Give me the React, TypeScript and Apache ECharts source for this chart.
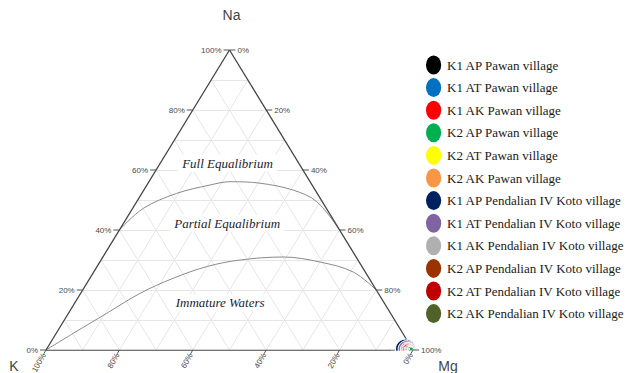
import React, { useEffect, useRef } from "react";
import * as echarts from "echarts";

// ---- Data ----
const seriesNames = [
  "K1 AP Pawan village",
  "K1 AT Pawan village",
  "K1 AK Pawan village",
  "K2 AP Pawan village",
  "K2 AT Pawan village",
  "K2 AK Pawan village",
  "K1 AP Pendalian IV Koto village",
  "K1 AT Pendalian IV Koto village",
  "K1 AK Pendalian IV Koto village",
  "K2 AP Pendalian IV Koto village",
  "K2 AT Pendalian IV Koto village",
  "K2 AK Pendalian IV Koto village",
];
const seriesColors = [
  "#000000", "#0070c0", "#ff0000", "#00b050", "#ffff00", "#f79646",
  "#002060", "#8064a2", "#b0b0b0", "#993300", "#c00000", "#4f6228",
];
// sample compositions (%)
const sampleNa = [0.3, 0.3, 0.3, 0.3, 0.3, 0.3, 0.3, 0.3, 0.3, 0.3, 0.3, 0.3];
const sampleK = [0.9, 0.8, 1.1, 0.3, 0.6, 0.6, 1.9, 1.6, 1.4, 1.2, 1.0, 0.5];
const sampleMg = [98.8, 98.9, 98.6, 99.4, 99.1, 99.1, 97.8, 98.1, 98.3, 98.5, 98.7, 99.2];
const markerSizes = [8, 7, 11, 4, 6, 6, 20, 17, 14, 12, 9, 5];

// equilibrium curves (Na %, K %, Mg %)
const fullEqNa = [40, 47.2, 52.2, 55, 56.1, 55.6, 53.3, 49.4, 40];
const fullEqK = [60, 49.9, 38.3, 27.8, 21.8, 13.9, 6, 1.5, 0];
const fullEqMg = [0, 2.9, 9.5, 17.2, 22.1, 30.5, 40.7, 49.1, 60];

const immNa = [0, 5.6, 12.2, 18.9, 23.9, 27.8, 30, 31, 29.3, 26, 20];
const immK = [100, 89.7, 77.4, 64.9, 53.4, 42.3, 32.1, 19.9, 10.6, 3.3, 0];
const immMg = [0, 4.7, 10.4, 16.2, 22.7, 29.9, 37.9, 49.1, 60.1, 70.7, 80];

const tickValues = [0, 20, 40, 60, 80, 100];
const gridSteps = [10, 20, 30, 40, 50, 60, 70, 80, 90];

const regionLabels = ["Full Equalibrium", "Partial Equalibrium", "Immature Waters"];
const regionNa = [62.3, 42.3, 15.7];
const regionK = [19.4, 29.5, 44.7];
const regionMg = [18.3, 28.2, 39.6];

const vertexNames = ["Na", "K", "Mg"];

const SERIF = "'Liberation Serif', 'DejaVu Serif', 'Times New Roman', serif";
const SANS = "'Liberation Sans', Arial, sans-serif";

// ternary -> cartesian (Na top, K bottom-left, Mg bottom-right)
function toXY(na: number, k: number, mg: number): number[] {
  const s = na + k + mg;
  const a = na / s;
  const m = mg / s;
  return [m + a / 2, a];
}

export default function App() {
  const ref = useRef<HTMLDivElement>(null);
  useEffect(() => {
    if (!ref.current) return;
    const chart = echarts.init(ref.current, null, { renderer: "svg" });

    const gridLines: any[] = [];
    gridSteps.forEach((c) => {
      gridLines.push({ coords: [toXY(c, 100 - c, 0), toXY(c, 0, 100 - c)] });
      gridLines.push({ coords: [toXY(0, 100 - c, c), toXY(100 - c, 0, c)] });
      gridLines.push({ coords: [toXY(0, c, 100 - c), toXY(100 - c, c, 0)] });
    });
    const edges = [
      { coords: [toXY(0, 100, 0), toXY(0, 0, 100)] },
      { coords: [toXY(0, 100, 0), toXY(100, 0, 0)] },
      { coords: [toXY(100, 0, 0), toXY(0, 0, 100)] },
    ];

    const fullData = fullEqNa.map((n, i) => toXY(n, fullEqK[i], fullEqMg[i]));
    const immData = immNa.map((n, i) => toXY(n, immK[i], immMg[i]));

    const scatterSeries = seriesNames.map((name, i) => ({
      type: "scatter",
      name,
      data: [toXY(sampleNa[i], sampleK[i], sampleMg[i])],
      symbol: "circle",
      symbolSize: markerSizes[i],
      itemStyle: { color: seriesColors[i], borderColor: "#ffffff", borderWidth: 1, opacity: 1 },
      z: 30 - markerSizes[i],
      clip: false,
      silent: true,
    }));

    chart.setOption({
      animation: false,
      grid: { left: 46, top: 50, width: 367, height: 300 },
      xAxis: { type: "value", min: 0, max: 1, show: false },
      yAxis: { type: "value", min: 0, max: 1, show: false },
      legend: {
        orient: "vertical",
        left: 426,
        top: 55.5,
        padding: 0,
        itemWidth: 17,
        itemHeight: 19,
        itemGap: 3.6,
        icon: "path://M0,10 A8,10 0 1,1 16,10 A8,10 0 1,1 0,10 Z",
        itemStyle: { borderWidth: 0, opacity: 1 },
        data: seriesNames,
        textStyle: { fontFamily: SERIF, fontSize: 13, color: "#1a1a1a" },
        selectedMode: false,
      },
      series: [
        {
          type: "lines",
          coordinateSystem: "cartesian2d",
          data: gridLines,
          lineStyle: { color: "#e6e6e6", width: 1, opacity: 1 },
          silent: true,
          z: 1,
        },
        {
          type: "line",
          data: fullData,
          smooth: 0.35,
          showSymbol: false,
          lineStyle: { color: "#8a8a8a", width: 1 },
          silent: true,
          z: 2,
        },
        {
          type: "line",
          data: immData,
          smooth: 0.35,
          showSymbol: false,
          lineStyle: { color: "#8a8a8a", width: 1 },
          silent: true,
          z: 2,
        },
        {
          type: "lines",
          coordinateSystem: "cartesian2d",
          data: edges,
          lineStyle: { color: "#444444", width: 1.3, opacity: 1 },
          silent: true,
          z: 3,
        },
        ...scatterSeries,
      ],
    });

    const px = (na: number, k: number, mg: number) =>
      chart.convertToPixel({ gridIndex: 0 }, toXY(na, k, mg)) as number[];

    const tickFont = { fontFamily: SANS, fontSize: 8, fill: "#4a4a4a" };
    const tickLine = { stroke: "#555555", lineWidth: 1 };
    const g: any[] = [];
    tickValues.forEach((v) => {
      // left axis (Na)
      const pl = px(v, 100 - v, 0);
      g.push({ type: "line", z: 50, shape: { x1: pl[0], y1: pl[1], x2: pl[0] - 6, y2: pl[1] }, style: tickLine });
      g.push({ type: "text", z: 50, x: pl[0] - 8, y: pl[1], style: { ...tickFont, text: v + "%", align: "right", verticalAlign: "middle" } });
      // right axis (Mg)
      const pr = px(100 - v, 0, v);
      g.push({ type: "line", z: 50, shape: { x1: pr[0], y1: pr[1], x2: pr[0] + 6, y2: pr[1] }, style: tickLine });
      g.push({ type: "text", z: 50, x: pr[0] + 8, y: pr[1], style: { ...tickFont, text: v + "%", align: "left", verticalAlign: "middle" } });
      // bottom axis (K)
      const pb = px(0, v, 100 - v);
      g.push({ type: "line", z: 50, shape: { x1: pb[0], y1: pb[1], x2: pb[0] - 2.2, y2: pb[1] + 3.8 }, style: tickLine });
      g.push({ type: "text", z: 50, x: pb[0] - 1.8, y: pb[1] + 3.8, rotation: Math.PI / 3, style: { ...tickFont, text: v + "%", align: "right", verticalAlign: "middle" } });
    });

    // white mask below the Mg vertex (markers cut by the base)
    const mgV = px(0, 0, 100);
    g.push({ type: "rect", z: 40, shape: { x: mgV[0] - 22, y: mgV[1] + 0.7, width: 32, height: 11 }, style: { fill: "#ffffff" } });

    // vertex titles
    const naV = px(100, 0, 0);
    const kV = px(0, 100, 0);
    const titleFont = { fontFamily: SANS, fontSize: 14, fill: "#444444", align: "center", verticalAlign: "middle" };
    g.push({ type: "text", z: 50, x: naV[0] + 2, y: 15, style: { ...titleFont, text: vertexNames[0] } });
    g.push({ type: "text", z: 50, x: kV[0] - 32, y: kV[1] + 16, style: { ...titleFont, text: vertexNames[1] } });
    g.push({ type: "text", z: 50, x: mgV[0] + 35, y: mgV[1] + 16, style: { ...titleFont, text: vertexNames[2] } });

    regionLabels.forEach((t, i) => {
      const p = px(regionNa[i], regionK[i], regionMg[i]);
      g.push({
        type: "text",
        z: 20,
        x: p[0],
        y: p[1],
        style: {
          text: t,
          fontFamily: SERIF,
          fontStyle: "italic",
          fontSize: 13,
          fill: "#1c1c34",
          align: "center",
          verticalAlign: "middle",
          backgroundColor: "#ffffff",
          padding: [2, 4],
        },
      });
    });

    chart.setOption({ graphic: g });

    return () => chart.dispose();
  }, []);
  return (
    <div
      ref={ref}
      style={{ position: "absolute", left: 0, top: 0, width: 631, height: 373, background: "#ffffff" }}
    />
  );
}
